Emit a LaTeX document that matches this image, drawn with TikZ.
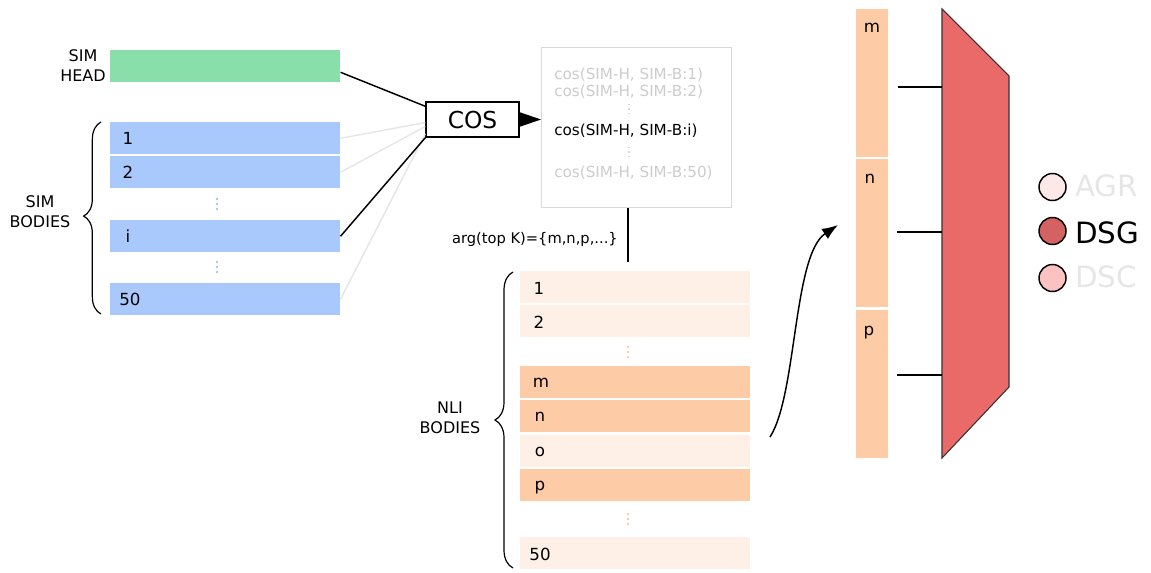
\documentclass[tikz,border=0pt]{standalone}
\usepackage{fontspec}
\setmainfont{DejaVu Sans}
\usetikzlibrary{decorations.pathreplacing,arrows.meta,calc}
\definecolor{simgreen}{HTML}{88DFAA}
\definecolor{simblue}{HTML}{A9C9FD}
\definecolor{nlilight}{HTML}{FEF0E7}
\definecolor{nlidark}{HTML}{FDCBA6}
\definecolor{trapred}{HTML}{EA6A6A}
\definecolor{boxgray}{HTML}{D9D9D9}
\definecolor{txtgray}{HTML}{CCCCCC}
\definecolor{linegray}{HTML}{E6E6E6}
\definecolor{agrfill}{HTML}{FDE8E8}
\definecolor{dsgfill}{HTML}{D46262}
\definecolor{dscfill}{HTML}{FCC1C1}
\definecolor{legtxt}{HTML}{E6E6E6}
\begin{document}
\begin{tikzpicture}[x=0.75pt,y=-0.75pt,
  rowbox/.style={inner sep=0pt,anchor=north west,minimum width=172.5pt,minimum height=24pt},
  colbox/.style={inner sep=0pt,anchor=north west,minimum width=24pt,minimum height=111pt,fill=nlidark},
  lab/.style={font=\fontsize{12.5}{14}\selectfont,inner sep=0pt},
  side/.style={font=\fontsize{12}{15}\selectfont,align=center,inner sep=0pt},
  restxt/.style={font=\fontsize{11.4}{13}\selectfont,inner sep=0pt,anchor=west},
  vdots/.style={line width=1.6pt,dash pattern=on 1.6pt off 2.2pt},
  conn/.style={line width=1.1pt},
  legc/.style={circle,draw=black,line width=1.1pt,minimum size=20.25pt,inner sep=0pt},
  legt/.style={font=\fontsize{22}{24}\selectfont,inner sep=0pt,anchor=base west}]
\useasboundingbox (0,0) rectangle (1151,572);

% SIM head
\node[rowbox,fill=simgreen] (head) at (110,50) {};
\node[side,anchor=east] (headlab) at (106,66) {SIM\\HEAD};

% SIM bodies
\node[rowbox,fill=simblue] (b1) at (110,122) {};
\node[rowbox,fill=simblue] (b2) at (110,156) {};
\node[rowbox,fill=simblue] (bi) at (110,220) {};
\node[rowbox,fill=simblue] (b50) at (110,283) {};
\node[lab] (lb1) at (128,138) {1};
\node[lab] (lb2) at (128,172) {2};
\node[lab] (lbi) at (128,236) {i};
\node[lab] (lb50) at (130,299) {50};
\draw[simblue,vdots] (217,198) -- (217,211);
\draw[simblue,vdots] (217,261) -- (217,274);
\draw[line width=0.9pt,decorate,decoration={brace,amplitude=13pt,aspect=0.51}] (101,314) -- (101,122);
\node[side] (simbod) at (40,212) {SIM\\BODIES};

% COS box
\node[draw,line width=1.1pt,minimum width=69.75pt,minimum height=26.25pt,inner sep=0pt,font=\fontsize{17.5}{18}\selectfont] (cos) at (472.5,119.5) {COS};

% connectors into COS
\draw[linegray,conn] (b1.east) -- ($(cos.west)+(0,3)$);
\draw[linegray,conn] (b2.east) -- ($(cos.west)+(0,7)$);
\draw[linegray,conn] (b50.east) -- ($(cos.south west)+(0,-4)$);
\draw[black,conn] ([yshift=-4.5pt]head.east) -- ($(cos.north west)+(0,5)$);
\draw[black,conn] (bi.east) -- (cos.south west);

% result box
\node[draw=boxgray,line width=1.1pt,inner sep=0pt,anchor=north west,minimum width=142.5pt,minimum height=120pt] (res) at (541,47) {};
\draw[-{Triangle[length=16.5pt,width=11pt]},line width=1.1pt] (cos.east) -- (cos.east -| res.west);
\node[restxt,text=txtgray] (r1) at (554,75) {cos(SIM-H, SIM-B:1)};
\node[restxt,text=txtgray] (r2) at (554,92) {cos(SIM-H, SIM-B:2)};
\node[restxt,text=black] (ri) at (554,131) {cos(SIM-H, SIM-B:i)};
\node[restxt,text=txtgray] (r50) at (554,173) {cos(SIM-H, SIM-B:50)};
\draw[boxgray,vdots,line width=1pt,dash pattern=on 1pt off 2.2pt] (629,104) -- (629,116);
\draw[boxgray,vdots,line width=1pt,dash pattern=on 1pt off 2.2pt] (629,147) -- (629,159);

% arg top K
\coordinate (vbot) at (628,262);
\draw[conn] (res.south -| vbot) -- (vbot);
\node[font=\fontsize{11}{12}\selectfont,inner sep=0pt,anchor=east] (argk) at (618,239) {arg(top K)=\{m,n,p,...\}};

% NLI bodies
\node[rowbox,fill=nlilight] (n1) at (520,271) {};
\node[rowbox,fill=nlilight] (n2) at (520,305) {};
\node[rowbox,fill=nlidark] (nm) at (520,366) {};
\node[rowbox,fill=nlidark] (nn) at (520,400) {};
\node[rowbox,fill=nlilight] (no) at (520,435) {};
\node[rowbox,fill=nlidark] (np) at (520,469) {};
\node[rowbox,fill=nlilight] (n50) at (520,537) {};
\node[lab] (ln1) at (539,288) {1};
\node[lab] (ln2) at (539,322) {2};
\node[lab] (lnm) at (541,383) {m};
\node[lab] (lnn) at (540,417) {n};
\node[lab] (lno) at (540,452) {o};
\node[lab,anchor=base] (lnp) at (540,490) {p};
\node[lab] (ln50) at (540,554) {50};
\draw[nlidark,vdots] (628,346) -- (628,359);
\draw[nlidark,vdots] (628,513) -- (628,526);
\draw[line width=0.9pt,decorate,decoration={brace,amplitude=13.5pt,aspect=0.5}] (513,568) -- (513,272);
\node[side] (nlibod) at (450,418) {NLI\\BODIES};

% curved arrow
\coordinate (cstart) at (770,437);
\coordinate (cend) at (838,225);
\draw[line width=1.1pt,-{Latex[length=12pt,width=9pt]}] (cstart) .. controls (797,395) and (793,255) .. (cend);

% right column
\node[colbox] (cm) at (856,9) {};
\node[colbox] (cn) at (856,159) {};
\node[colbox] (cp) at (856,310) {};
\node[lab,anchor=base] (lcm) at (872,32) {m};
\node[lab,anchor=base] (lcn) at (870,183) {n};
\node[lab,anchor=base] (lcp) at (869,335) {p};

% trapezoid
\coordinate (t1) at (942,9);
\coordinate (t2) at (1009,76);
\coordinate (t3) at (1009,387);
\coordinate (t4) at (942,458);
\fill[trapred] (t1) -- (t2) -- (t3) -- (t4) -- cycle;
\draw[black!80,line width=0.8pt] (t1) -- (t2) -- (t3) -- (t4) -- cycle;
\coordinate (a1) at (898,87);
\coordinate (a2) at (897,232);
\coordinate (a3) at (897,375);
\draw[conn] (a1) -- (a1 -| t1);
\draw[conn] (a2) -- (a2 -| t1);
\draw[conn] (a3) -- (a3 -| t1);

% legend
\node[legc,fill=agrfill] (cagr) at (1052.5,187) {};
\node[legc,fill=dsgfill] (cdsg) at (1052.5,231) {};
\node[legc,fill=dscfill] (cdsc) at (1052.5,278) {};
\node[legt,text=legtxt] (tagr) at (1075,196) {AGR};
\node[legt,text=black] (tdsg) at (1075,243) {DSG};
\node[legt,text=legtxt] (tdsc) at (1075,287) {DSC};
\end{tikzpicture}
\end{document}
